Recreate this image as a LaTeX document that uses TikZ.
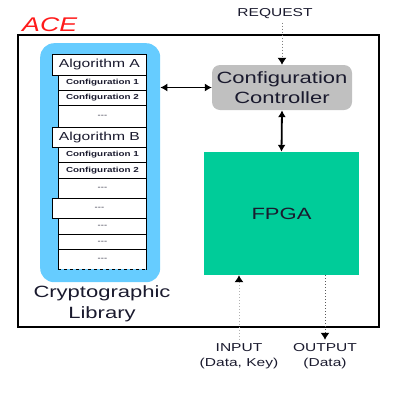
\documentclass[tikz,border=0pt]{standalone}
\usepackage{fontspec}
\setmainfont{Liberation Sans}[FakeStretch=1.35]
\usetikzlibrary{arrows.meta}
\definecolor{libblue}{HTML}{66CCFF}
\definecolor{ctrlgray}{HTML}{C0C0C0}
\definecolor{fpgagreen}{HTML}{00CC99}
\definecolor{acered}{HTML}{FF1A1A}
\definecolor{dtext}{HTML}{1A1A2E}

\begin{document}
\begin{tikzpicture}[x=1pt,y=-1pt,
    row/.style={draw=black,line width=0.9pt,fill=white,inner sep=0pt,anchor=north west,text=dtext},
    algrow/.style={row,font=\fontsize{11.6}{13}\selectfont},
    cfgrow/.style={row,font=\bfseries\fontsize{7.3}{8}\selectfont},
    gaprow/.style={row,font=\fontsize{7}{8}\selectfont},
    big/.style={font=\fontsize{16.3}{20.5}\selectfont,text=dtext,align=center},
    small/.style={font=\fontsize{11.5}{15}\selectfont,text=dtext,align=center},
    link/.style={line width=1.1pt,{Latex[length=7pt,width=8pt]}-{Latex[length=7pt,width=8pt]}},
    io/.style={dotted,line width=1pt,-{Latex[length=7pt,width=9pt,color=black]}}]
  \useasboundingbox (0,0) rectangle (414,402);
  \node[draw=black,line width=1.8pt,minimum width=361pt,minimum height=292pt,
    anchor=north west,inner sep=0pt] (ace) at (17,34) {};
  \node[anchor=base west,inner sep=0pt,text=acered,
    font=\itshape\fontsize{19.8}{22}\selectfont] (acename) at (22,31) {ACE};
  \node[fill=libblue,rounded corners=14pt,minimum width=120pt,minimum height=239pt,
    anchor=north west,inner sep=0pt] (lib) at (40,43) {};
  \foreach \n/\st/\x/\y/\h/\txt in {
    r1/algrow/52/54/21/Algorithm A,
    r2/cfgrow/58/75/15/Configuration 1,
    r3/cfgrow/58/90/15/Configuration 2,
    r4/gaprow/58/105/22/{-}{-}{-},
    r5/algrow/52/127/20/Algorithm B,
    r6/cfgrow/58/147/15/Configuration 1,
    r7/cfgrow/58/162/16/Configuration 2,
    r8/gaprow/58/178/20/{-}{-}{-},
    r9/gaprow/52/198/20/{-}{-}{-},
    r10/gaprow/58/218/16/{-}{-}{-},
    r11/gaprow/58/234/15/{-}{-}{-}
  }{
    \node[\st,minimum width={(146-\x)*1pt},minimum height=\h pt] (\n) at (\x,\y) {\txt};
  }
  \node[gaprow,draw=none,minimum width=88pt,minimum height=20pt] (r12) at (58,249) {{-}{-}{-}};
  \draw[line width=0.9pt] (r12.south west) -- (r12.north west) -- (r12.north east) -- (r12.south east);
  \draw[line width=0.9pt,dashed] (r12.south west) -- (r12.south east);
  \node[big] (libname) at (102,303.7) {Cryptographic\\Library};

  \node[big,fill=ctrlgray,rounded corners=8pt,minimum width=140pt,minimum height=45pt,
    inner sep=0pt] (ctrl) at (282,87.5) {Configuration\\Controller};
  \node[big,fill=fpgagreen,minimum width=155pt,minimum height=123pt] (fpga) at (281.5,213.5) {FPGA};

  \node[small] (req) at (275,14) {REQUEST};
  \node[small] (inp) at (239,356) {INPUT\\(Data, Key)};
  \node[small] (outp) at (325,356) {OUTPUT\\(Data)};

  \draw[link] (lib.east |- ctrl.west) -- (ctrl.west);
  \draw[link,line width=1.8pt] (ctrl.south) -- (fpga.north);
  \draw[io,draw=gray] (ctrl.north |- req.south) -- (ctrl.north);
  \draw[io,draw=gray!60] (inp.north) -- (fpga.south -| inp.north);
  \draw[io,draw=black!65] (fpga.south -| outp.north) -- (outp.north);
\end{tikzpicture}
\end{document}
